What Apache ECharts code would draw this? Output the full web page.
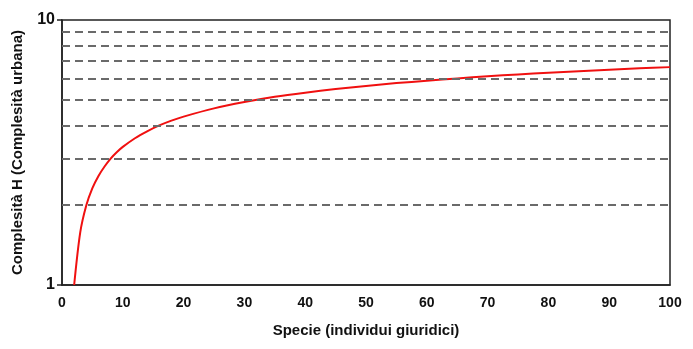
<!DOCTYPE html>
<html>
<head>
<meta charset="utf-8">
<script src="https://cdn.jsdelivr.net/npm/echarts@6/dist/echarts.min.js"></script>
<style>
  html, body { margin: 0; padding: 0; background: #fff; }
  #chart { width: 693px; height: 349px; }
</style>
</head>
<body>
<div id="chart"></div>
<script>
// valori
const specie = [2, 3, 4, 5, 6, 7, 8, 9, 10, 12, 14, 16, 18, 20, 25, 30, 35, 40, 45, 50, 55, 60, 65, 70, 75, 80, 85, 90, 95, 100]
const complessita = [1, 1.58, 2, 2.32, 2.58, 2.8, 3, 3.17, 3.32, 3.58, 3.8, 4, 4.17, 4.32, 4.64, 4.9, 5.13, 5.32, 5.49, 5.64, 5.78, 5.9, 6.02, 6.13, 6.23, 6.32, 6.41, 6.49, 6.57, 6.64]
const lineeGriglia = [2, 3, 4, 5, 6, 7, 8, 9]
const xTicks = [0, 10, 20, 30, 40, 50, 60, 70, 80, 90, 100]

const font = '"Liberation Sans", Arial, sans-serif'

const chart = echarts.init(document.getElementById('chart'))

const option = {
  animation: false,
  grid: {
    left: 62,
    right: 23,
    top: 20,
    bottom: 64,
    show: true,
    borderColor: '#222',
    borderWidth: 1.5
  },
  xAxis: {
    type: 'value',
    min: 0,
    max: 100,
    interval: 10,
    name: 'Specie (individui giuridici)',
    nameLocation: 'middle',
    nameGap: 38,
    nameTextStyle: { fontFamily: font, fontWeight: 'bold', fontSize: 15, color: '#111' },
    axisLine: { onZero: false, lineStyle: { color: '#222', width: 1.5 } },
    axisTick: { show: false },
    splitLine: { show: false },
    axisLabel: {
      fontFamily: font, fontWeight: 'bold', fontSize: 14, color: '#111', margin: 11,
      formatter: v => xTicks.includes(v) ? String(v) : ''
    }
  },
  yAxis: {
    type: 'log',
    logBase: 10,
    min: 1,
    max: 10,
    name: 'Complesità H (Complesità urbana)',
    nameLocation: 'middle',
    nameGap: 37,
    nameTextStyle: { fontFamily: font, fontWeight: 'bold', fontSize: 15, color: '#111' },
    axisLine: { show: true, lineStyle: { color: '#222', width: 1.5 } },
    axisTick: { show: true, length: 5, lineStyle: { color: '#222', width: 1.5 } },
    splitLine: { show: false },
    axisLabel: { fontFamily: font, fontWeight: 'bold', fontSize: 16, color: '#111', margin: 7 }
  },
  series: [
    {
      type: 'line',
      data: specie.map((x, i) => [x, complessita[i]]),
      showSymbol: false,
      smooth: 0.3,
      lineStyle: { color: '#f01010', width: 2 },
      markLine: {
        silent: true,
        symbol: 'none',
        label: { show: false },
        lineStyle: { color: '#6a6a6a', type: [8, 5], width: 2 },
        data: lineeGriglia.map(v => ({ yAxis: v }))
      },
      z: 3
    }
  ]
}

chart.setOption(option)
</script>
</body>
</html>
